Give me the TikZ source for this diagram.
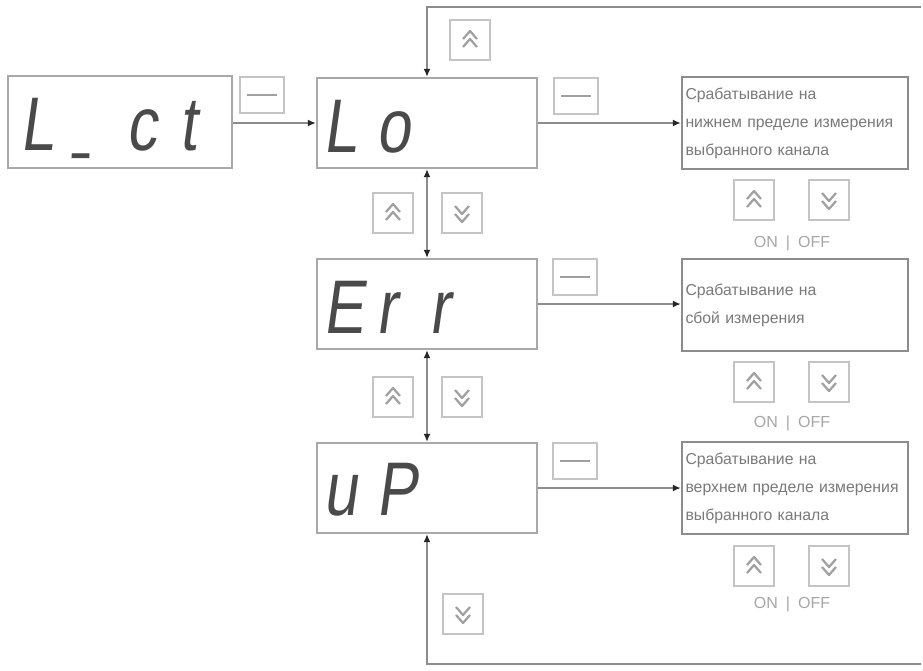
\documentclass[tikz,border=0pt]{standalone}
\usepackage{fontspec}
\setmainfont{Liberation Sans}
\newfontfamily\dispfont[FakeSlant=0.14,FakeStretch=0.8]{Liberation Sans}
\usetikzlibrary{arrows.meta}
\newcommand\dch[1]{\makebox[53pt][l]{#1}}
\definecolor{boxgray}{HTML}{A8A8A8}
\definecolor{linegray}{HTML}{8C8C8C}
\definecolor{keygray}{HTML}{C4C4C4}
\definecolor{icongray}{HTML}{A0A0A0}
\definecolor{txtgray}{HTML}{7A7A7A}
\definecolor{dispgray}{HTML}{4A4A4A}
\tikzset{
  dispbox/.style={draw=boxgray, line width=2.2pt, minimum width=220pt, minimum height=90pt, inner sep=0pt},
  disptext/.style={anchor=base west, inner sep=0pt, text=dispgray, font=\dispfont\fontsize{76}{76}\selectfont},
  descbox/.style={draw=linegray, line width=2.4pt, minimum width=225pt, minimum height=92pt,
    text width=219pt, align=left, inner xsep=3.5pt, inner ysep=5pt, text=txtgray, font=\fontsize{15.8}{28}\selectfont},
  keybox/.style={draw=keygray, line width=1.6pt, minimum width=40pt, minimum height=40pt, inner sep=0pt},
  upkey/.style={keybox, path picture={
      \begin{scope}[shift={(path picture bounding box.center)}]
        \draw[icongray, line width=2.2pt, line join=round] (-7,-1) -- (0,-9) -- (7,-1);
        \draw[icongray, line width=2.2pt, line join=round] (-7,7) -- (0,-1) -- (7,7);
      \end{scope}}},
  downkey/.style={keybox, path picture={
      \begin{scope}[shift={(path picture bounding box.center)}]
        \draw[icongray, line width=2.2pt, line join=round] (-7,-7) -- (0,1) -- (7,-7);
        \draw[icongray, line width=2.2pt, line join=round] (-7,1) -- (0,9) -- (7,1);
      \end{scope}}},
  menukey/.style={keybox, minimum width=44pt, minimum height=36pt, path picture={
      \draw[icongray, line width=2.6pt] ([xshift=-15pt]path picture bounding box.center) -- ([xshift=15pt]path picture bounding box.center);}},
  onoff/.style={text=keygray!85!black, font=\fontsize{16}{16}\selectfont, inner sep=0pt},
  conn/.style={draw=linegray, line width=2pt},
  tip/.style={-{Latex[length=8pt,width=7pt,color=black!85]}},
  tips/.style={{Latex[length=8pt,width=7pt,color=black!85]}-{Latex[length=8pt,width=7pt,color=black!85]}}
}
\begin{document}
\begin{tikzpicture}[x=1pt, y=-1pt]
\useasboundingbox[fill=white] (0,0) rectangle (923,670);

% parameter display boxes
\node[dispbox, minimum width=224pt, minimum height=92pt] (lct) at (120,122) {};
\node[dispbox] (lo)  at (427,123) {};
\node[dispbox] (err) at (427,304) {};
\node[dispbox] (up)  at (427,488) {};

\node[disptext] (lcttxt) at (20,150) {\dch{L}\dch{\raisebox{0.08em}{\scalebox{0.5}[1]{\_}}}\dch{c}\dch{t}};
\node[disptext] (lotxt)  at (323,152) {\dch{L}\dch{o}};
\node[disptext] (errtxt) at (323,333) {\dch{E}\dch{r}\dch{r}};
\node[disptext] (uptxt)  at (323,515) {\dch{u}\dch{P}};

% descriptions of the selected mode
\node[descbox] (dlo) at (795,123) {Срабатывание на\\нижнем пределе измерения\\выбранного канала};
\node[descbox] (derr) at (795,305) {Срабатывание на\\сбой измерения};
\node[descbox] (dup) at (795,488) {Срабатывание на\\верхнем пределе измерения\\выбранного канала};

% programming keys
\node[menukey] (mk0) at (262,95) {};
\node[menukey] (mk1) at (576,96) {};
\node[menukey] (mk2) at (575,277) {};
\node[menukey] (mk3) at (575,461) {};

% navigation keys along the column
\node[upkey]   (ktop) at (470,40) {};
\node[upkey]   (k1u)  at (393,213) {};
\node[downkey] (k1d)  at (462,213) {};
\node[upkey]   (k2u)  at (393,397) {};
\node[downkey] (k2d)  at (462,397) {};
\node[downkey] (kbot) at (463,614) {};

% ON / OFF keys below each description
\node[upkey]   (lou)  at (754,200) {};
\node[downkey] (lod)  at (829,200) {};
\node[onoff]   (looo) at (792,243) {ON\enspace|\enspace OFF};
\node[upkey]   (erru) at (754,382) {};
\node[downkey] (errd) at (829,382) {};
\node[onoff]   (erroo) at (792,423) {ON\enspace|\enspace OFF};
\node[upkey]   (upu)  at (754,566) {};
\node[downkey] (upd)  at (829,566) {};
\node[onoff]   (upoo) at (792,604) {ON\enspace|\enspace OFF};

% loop ends
\coordinate (topR) at (921,7);
\coordinate (topL) at (427,7);
\coordinate (botL) at (427,664);
\coordinate (botR) at (921,664);

% connectors
\draw[conn, tip] (lct.east |- lo.west) -- (lo.west);
\draw[conn, tip] (topR) -- (topL) -- (lo.north);
\draw[conn, tips] (lo.south) -- (err.north);
\draw[conn, tips] (err.south) -- (up.north);
\draw[conn, tip] (botR) -- (botL) -- (up.south);
\draw[conn, tip] (lo.east) -- (lo.east -| dlo.west);
\draw[conn, tip] (err.east) -- (err.east -| derr.west);
\draw[conn, tip] (up.east) -- (up.east -| dup.west);
\end{tikzpicture}
\end{document}
